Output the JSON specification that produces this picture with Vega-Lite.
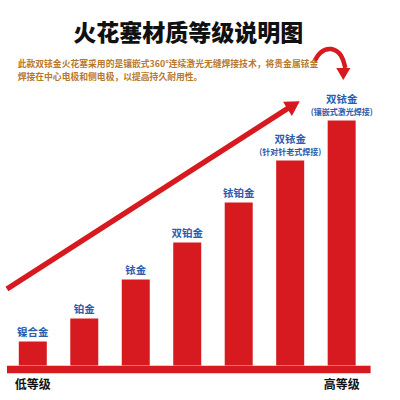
{
  "$schema": "https://vega.github.io/schema/vega-lite/v6.json",
  "width": 400,
  "height": 400,
  "padding": 0,
  "autosize": {"type": "fit", "contains": "padding"},
  "background": "#ffffff",
  "config": {"view": {"stroke": null}, "font": "Noto Sans CJK SC"},
  "data": {"values": [{}]},
  "datasets": {
    "bars": [
      {"material": "镍合金", "level": 1, "value": 24, "note": ""},
      {"material": "铂金", "level": 2, "value": 47, "note": ""},
      {"material": "铱金", "level": 3, "value": 86, "note": ""},
      {"material": "双铂金", "level": 4, "value": 123, "note": ""},
      {"material": "铱铂金", "level": 5, "value": 163, "note": ""},
      {"material": "双铱金", "level": 6, "value": 205, "note": "(针对针老式焊接)"},
      {"material": "双铱金", "level": 7, "value": 245, "note": "(镶嵌式激光焊接)"}
    ],
    "curve": [
      {"level": 6.47, "value": 304},
      {"level": 6.57, "value": 314},
      {"level": 6.805, "value": 318.5},
      {"level": 7.013, "value": 310.5},
      {"level": 7.07, "value": 297.5}
    ]
  },
  "layer": [
    {
      "data": {"name": "bars"},
      "mark": {"type": "bar", "size": 28, "color": "#d71a20"},
      "encoding": {
        "x": {"field": "level", "type": "quantitative", "scale": {"domain": [0.46, 8.036], "nice": false, "zero": false}, "axis": null},
        "y": {"field": "value", "type": "quantitative", "scale": {"domain": [-34.5, 365.5], "nice": false, "zero": false}, "axis": null}
      }
    },
    {
      "data": {"name": "bars"},
      "transform": [{"filter": "datum.note == ''"}],
      "mark": {"type": "text", "baseline": "bottom", "dy": -4, "fontSize": 10.5, "fontWeight": "bold", "color": "#2a5cae"},
      "encoding": {
        "x": {"field": "level", "type": "quantitative"},
        "y": {"field": "value", "type": "quantitative"},
        "text": {"field": "material"}
      }
    },
    {
      "data": {"name": "bars"},
      "transform": [{"filter": "datum.note != ''"}],
      "mark": {"type": "text", "baseline": "bottom", "dy": -16, "fontSize": 10.5, "fontWeight": "bold", "color": "#2a5cae"},
      "encoding": {
        "x": {"field": "level", "type": "quantitative"},
        "y": {"field": "value", "type": "quantitative"},
        "text": {"field": "material"}
      }
    },
    {
      "data": {"name": "bars"},
      "transform": [{"filter": "datum.note != ''"}],
      "mark": {"type": "text", "baseline": "bottom", "dy": -3.5, "fontSize": 8, "fontWeight": "bold", "color": "#2a5cae"},
      "encoding": {
        "x": {"field": "level", "type": "quantitative"},
        "y": {"field": "value", "type": "quantitative"},
        "text": {"field": "note"}
      }
    },
    {
      "mark": {"type": "rule", "color": "#d71a20", "strokeWidth": 7.6, "strokeCap": "butt"},
      "encoding": {
        "x": {"datum": 0.498, "type": "quantitative"},
        "x2": {"datum": 7.562},
        "y": {"datum": -4, "type": "quantitative"}
      }
    },
    {
      "mark": {"type": "rule", "color": "#d71a20", "strokeWidth": 5.5, "strokeCap": "butt"},
      "encoding": {
        "x": {"datum": 0.498, "type": "quantitative"},
        "x2": {"datum": 6.01},
        "y": {"datum": 76.5, "type": "quantitative"},
        "y2": {"datum": 259}
      }
    },
    {
      "mark": {"type": "point", "shape": "triangle-up", "angle": 58, "size": 280, "filled": true, "opacity": 1, "color": "#d71a20"},
      "encoding": {
        "x": {"datum": 6.066, "type": "quantitative"},
        "y": {"datum": 260.5, "type": "quantitative"}
      }
    },
    {
      "data": {"name": "curve"},
      "mark": {"type": "line", "interpolate": "basis", "color": "#d71a20", "strokeWidth": 4.5},
      "encoding": {
        "x": {"field": "level", "type": "quantitative"},
        "y": {"field": "value", "type": "quantitative"}
      }
    },
    {
      "mark": {"type": "point", "shape": "triangle-down", "size": 200, "filled": true, "opacity": 1, "color": "#d71a20"},
      "encoding": {
        "x": {"datum": 7.032, "type": "quantitative"},
        "y": {"datum": 291.5, "type": "quantitative"}
      }
    },
    {
      "mark": {"type": "text", "text": "火花塞材质等级说明图", "fontSize": 23, "fontWeight": 900, "color": "#111111", "align": "center", "baseline": "middle"},
      "encoding": {
        "x": {"datum": 4.02, "type": "quantitative"},
        "y": {"datum": 331.5, "type": "quantitative"}
      }
    },
    {
      "mark": {"type": "text", "text": ["此款双铱金火花塞采用的是镶嵌式360°连续激光无缝焊接技术，将贵金属铱金", "焊接在中心电极和侧电极，以提高持久耐用性。"], "fontSize": 8.8, "lineHeight": 12.6, "fontWeight": "bold", "color": "#b8782c", "align": "left", "baseline": "middle"},
      "encoding": {
        "x": {"datum": 0.706, "type": "quantitative"},
        "y": {"datum": 301.5, "type": "quantitative"}
      }
    },
    {
      "mark": {"type": "text", "text": "低等级", "fontSize": 12, "fontWeight": "bold", "color": "#111111", "align": "center", "baseline": "middle"},
      "encoding": {
        "x": {"datum": 1, "type": "quantitative"},
        "y": {"datum": -19.5, "type": "quantitative"}
      }
    },
    {
      "mark": {"type": "text", "text": "高等级", "fontSize": 12, "fontWeight": "bold", "color": "#111111", "align": "center", "baseline": "middle"},
      "encoding": {
        "x": {"datum": 7, "type": "quantitative"},
        "y": {"datum": -19.5, "type": "quantitative"}
      }
    }
  ]
}
